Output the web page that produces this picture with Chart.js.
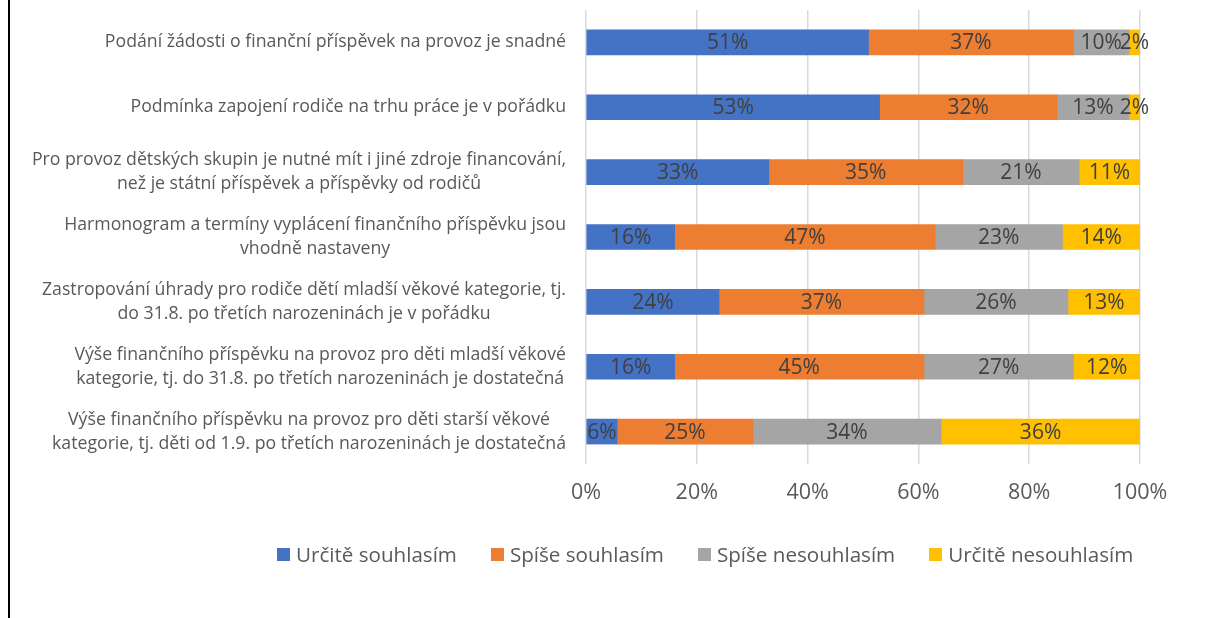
<!DOCTYPE html>
<html>
<head>
<meta charset="utf-8">
<script src="https://cdn.jsdelivr.net/npm/chart.js@4.4.0/dist/chart.umd.min.js"></script>
<style>
  html, body { margin: 0; padding: 0; background: #fff; }
  #wrap { position: relative; width: 1208px; height: 618px; overflow: hidden; }
  #frame { position: absolute; left: 8px; top: 0; width: 2px; height: 618px; background: #000; }
  #legend { position: absolute; left: 277px; top: 540px; display: flex; align-items: center;
            font-family: "Open Sans", "Noto Sans", sans-serif; font-size: 20.6px; color: #595959; white-space: nowrap; }
  .item { display: flex; align-items: center; margin-right: 34px; }
  .box { width: 13px; height: 13px; margin-right: 6px; }
</style>
</head>
<body>
<div id="wrap">
  <canvas id="c" width="1208" height="618"></canvas>
  <div id="frame"></div>
  <div id="legend"></div>
</div>
<script>
const categories = [
  ['Podání žádosti o finanční příspěvek na provoz je snadné'],
  ['Podmínka zapojení rodiče na trhu práce je v pořádku'],
  ['Pro provoz dětských skupin je nutné mít i jiné zdroje financování,', 'než je státní příspěvek a příspěvky od rodičů'],
  ['Harmonogram a termíny vyplácení finančního příspěvku jsou', 'vhodně nastaveny'],
  ['Zastropování úhrady pro rodiče dětí mladší věkové kategorie, tj.', 'do 31.8. po třetích narozeninách je v pořádku'],
  ['Výše finančního příspěvku na provoz pro děti mladší věkové', 'kategorie, tj. do 31.8. po třetích narozeninách je dostatečná'],
  ['Výše finančního příspěvku na provoz pro děti starší věkové', 'kategorie, tj. děti od 1.9. po třetích narozeninách je dostatečná']
];
const seriesNames = ['Určitě souhlasím', 'Spíše souhlasím', 'Spíše nesouhlasím', 'Určitě nesouhlasím'];
const urciteSouhlasim   = [51, 53, 33, 16, 24, 16, 5.6];
const spiseSouhlasim    = [37, 32, 35, 47, 37, 45, 24.5];
const spiseNesouhlasim  = [10, 13, 21, 23, 26, 27, 34];
const urciteNesouhlasim = [2, 2, 11, 14, 13, 12, 35.9];
const xTicks = [0, 20, 40, 60, 80, 100];
const colors = ['#4472C4', '#ED7D31', '#A5A5A5', '#FFC000'];

const FONT = '"Open Sans", "Noto Sans", sans-serif';
const seriesValues = [urciteSouhlasim, spiseSouhlasim, spiseNesouhlasim, urciteNesouhlasim];

const barLabels = {
  id: 'barLabels',
  afterDatasetsDraw(chart) {
    const ctx = chart.ctx;
    ctx.save();
    ctx.font = '21px ' + FONT;
    ctx.fillStyle = '#404040';
    ctx.textAlign = 'center';
    ctx.textBaseline = 'middle';
    chart.data.datasets.forEach((ds, di) => {
      const meta = chart.getDatasetMeta(di);
      meta.data.forEach((el, i) => {
        const p = el.getProps(['x', 'y', 'base'], true);
        ctx.fillText(Math.round(ds.data[i]) + '%', (p.x + p.base) / 2, p.y + 1);
      });
    });
    ctx.restore();
  }
};

const catLabels = {
  id: 'catLabels',
  afterDraw(chart) {
    const ctx = chart.ctx;
    const ys = chart.scales.y;
    const right = chart.chartArea.left - 20;
    ctx.save();
    ctx.font = '17.7px ' + FONT;
    ctx.fillStyle = '#595959';
    ctx.textAlign = 'center';
    ctx.textBaseline = 'middle';
    chart.data.labels.forEach((lines, i) => {
      const y = ys.getPixelForValue(i);
      const maxW = Math.max(...lines.map(l => ctx.measureText(l).width));
      const cx = right - maxW / 2;
      lines.forEach((l, j) => {
        ctx.fillText(l, cx, y + (j - (lines.length - 1) / 2) * 24);
      });
    });
    ctx.restore();
  }
};

new Chart(document.getElementById('c'), {
  type: 'bar',
  data: {
    labels: categories,
    datasets: seriesNames.map((n, k) => ({
      label: n,
      data: seriesValues[k],
      backgroundColor: colors[k],
      borderWidth: 0,
      barThickness: 25
    }))
  },
  options: {
    indexAxis: 'y',
    responsive: false,
    animation: false,
    layout: { padding: { left: 0, top: 10, right: 68, bottom: 104 } },
    plugins: { legend: { display: false }, tooltip: { enabled: false } },
    scales: {
      x: {
        stacked: true, min: 0, max: 100,
        afterBuildTicks(scale) { scale.ticks = xTicks.map(v => ({ value: v })); },
        afterFit(scale) { scale.height = 50; },
        grid: { color: '#d9d9d9', lineWidth: 1.5, drawTicks: false },
        border: { display: false },
        ticks: { padding: 16, color: '#595959', font: { family: FONT, size: 21.5 },
                 callback: v => v + '%' }
      },
      y: {
        stacked: true,
        afterFit(scale) { scale.width = 586; },
        grid: { display: false },
        border: { display: false },
        ticks: { display: false }
      }
    }
  },
  plugins: [barLabels, catLabels]
});

const legend = document.getElementById('legend');
seriesNames.forEach((n, k) => {
  const it = document.createElement('div');
  it.className = 'item';
  const b = document.createElement('span');
  b.className = 'box';
  b.style.background = colors[k];
  const t = document.createElement('span');
  t.textContent = n;
  it.appendChild(b); it.appendChild(t);
  legend.appendChild(it);
});
</script>
</body>
</html>
